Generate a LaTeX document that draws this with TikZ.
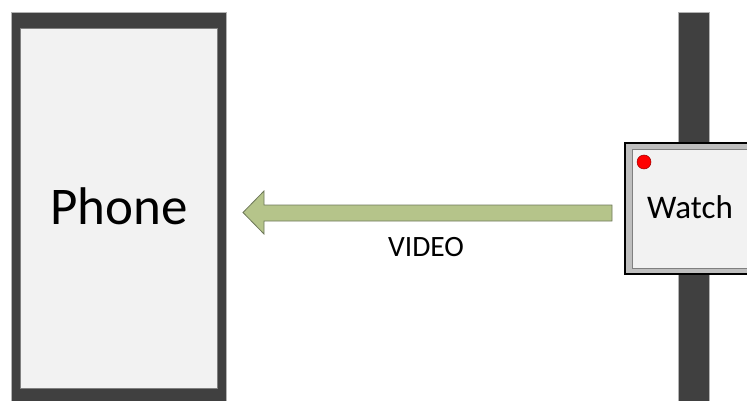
\documentclass[tikz,border=0pt]{standalone}
\usepackage{fontspec}
\setmainfont{Carlito}
\definecolor{darkband}{RGB}{64,64,64}
\definecolor{screen}{RGB}{242,242,242}
\definecolor{edgegray}{RGB}{128,128,128}
\definecolor{bezel}{RGB}{191,191,191}
\definecolor{arrowfill}{RGB}{181,196,138}
\definecolor{arrowline}{RGB}{110,120,90}
\tikzset{
  darkpart/.style={fill=darkband, draw=edgegray!60, line width=0.6pt},
  screenpart/.style={fill=screen, draw=edgegray, line width=1pt},
  watchcase/.style={fill=bezel, draw=black, line width=1.6pt},
  lbl/.style={inner sep=0pt, anchor=base, text=black},
}
\begin{document}
\begin{tikzpicture}[x=1pt,y=-1pt]
\useasboundingbox (0,0) rectangle (747,401);
\clip (0,0) rectangle (747,401);
% phone
\draw[darkpart] (11,12) rectangle (226,410);
\draw[screenpart] (20,29) rectangle (217,388);
\node[lbl, font=\fontsize{53}{60}\selectfont] (phone) at (119,224) {Phone};
% watch band
\draw[darkpart] (678,12) rectangle (709,410);
% watch
\draw[watchcase] (625,143) rectangle (770,274);
\draw[screenpart] (632,150) rectangle (770,268);
\node[circle, fill=red, draw=red!60!black, line width=0.5pt, minimum size=14pt, inner sep=0pt] (led) at (644,162) {};
\node[lbl, font=\fontsize{33}{40}\selectfont] (watch) at (690,218) {Watch};
% arrow
\draw[fill=arrowfill, draw=arrowline, line width=0.8pt, line join=miter]
  (612,205) -- (264,205) -- (264,191) -- (243,212.5) -- (264,234) -- (264,221) -- (612,221) -- cycle;
\node[lbl, font=\fontsize{29.5}{34}\selectfont] (video) at (426,256) {VIDEO};
\end{tikzpicture}
\end{document}
